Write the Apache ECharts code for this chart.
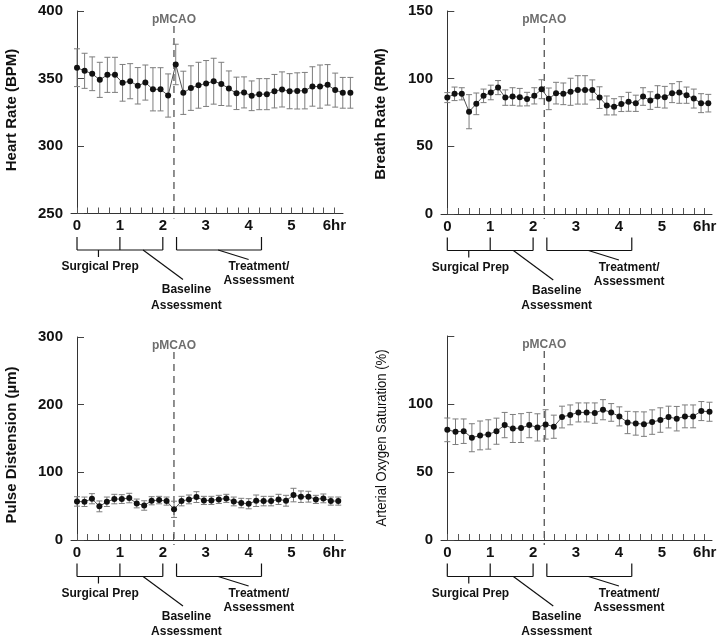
<!DOCTYPE html>
<html><head><meta charset="utf-8">
<script src="https://cdn.jsdelivr.net/npm/echarts@6/dist/echarts.min.js"></script>
<style>html,body{margin:0;padding:0;background:#fff}#c{width:720px;height:638px}</style>
</head><body><div id="c"></div>
<script>
// ---------------- data ----------------
const hourLabels = [0, 1, 2, 3, 4, 5, 6];
const quarterTicks = [0, 0.25, 0.5, 0.75, 1, 1.25, 1.5, 1.75, 2, 2.25, 2.5, 2.75, 3, 3.25, 3.5, 3.75, 4, 4.25, 4.5, 4.75, 5, 5.25, 5.5, 5.75, 6];
const pMCAOtime = 2.26;              // hours
const prepBracket = [0, 1, 2];       // Surgical Prep 0-1 h, Baseline 1-2 h
const treatBracket = [2.32, 4.3];    // Treatment / Assessment

// sampling interval (hours) of each recording as drawn
const hrStep = 0.177, brStep = 0.169, pdStep = 0.174, o2Step = 0.191;

const hrMean = [358, 355.7, 353.5, 349, 352.7, 352.7, 346.8, 348, 344.6, 347, 342, 342, 337.4, 360.4, 339.4, 342.9, 345, 346.3, 348, 346, 342.6, 339, 339.7, 337.2, 338.4, 338.4, 340.6, 341.9, 340.6, 340.8, 341, 344.1, 344, 345.3, 341.4, 339.4, 339.4];
const hrErr  = [14, 13, 12.5, 13, 13, 13, 13.6, 13, 13.5, 13, 16, 16, 16, 15, 16, 16.5, 17, 17, 17, 16, 13, 12, 11.5, 11, 11.5, 11.5, 12.4, 13, 13, 13.4, 13.5, 14.6, 16, 15, 12.6, 11.4, 11.4];

const brMean = [86, 88.8, 88.8, 75.6, 81.4, 87.3, 89.8, 93.4, 86, 86.8, 86.3, 84.9, 87.3, 92.2, 85.1, 89.3, 88.8, 90.3, 91.7, 91.7, 91.7, 86, 80.2, 79.2, 81.2, 82.9, 81.8, 86.8, 83.8, 86.8, 86.3, 89.3, 89.8, 87.8, 85.3, 81.9, 81.9];
const brErr  = [3.7, 5, 4.5, 12.6, 8, 5, 5.4, 5.2, 5.7, 6.5, 6.5, 5, 6, 7, 8, 8, 8, 10, 10.5, 10.5, 7.4, 8, 7, 6, 5.5, 7, 6, 6.5, 6.5, 8, 8, 7, 8, 6, 7, 7, 6.5];

const pdMean = [57, 56.5, 61, 49.7, 56.5, 60.5, 60.5, 62, 54, 51, 58, 59, 57.5, 45.3, 57.5, 60, 63.4, 58.5, 58.5, 60, 61.5, 57, 54.6, 53.6, 58, 57.5, 57.5, 60, 58, 66.4, 64, 64, 60, 61.5, 57.5, 57.5];
const pdErr  = [7, 7, 7.5, 8, 7, 7, 6.5, 7, 6.5, 7, 6, 5.5, 6, 12, 7, 6.5, 8, 6, 6, 6, 6, 6.5, 7, 7.5, 8.5, 7, 7, 7.5, 8, 10, 8.5, 8, 6, 6.5, 6, 6];

const o2Mean = [81, 79.6, 80, 75.2, 76.9, 77.6, 80, 84.5, 82, 82.3, 84.5, 82.8, 85, 83.3, 90.4, 92, 93.8, 93.8, 93.3, 95.8, 93.8, 90.9, 86.4, 85.7, 85.2, 86.7, 88.2, 90.4, 89.2, 90.9, 90.9, 94.8, 94.3];
const o2Err  = [8.7, 9.4, 9, 10.3, 10.6, 10.8, 9.6, 9.3, 10.3, 10.6, 9.3, 10, 10.8, 8.5, 8, 7.3, 7, 7, 7.5, 7.4, 6.5, 7, 8.2, 8.6, 9, 9, 9, 8, 9, 8.4, 8.4, 7, 7];

// ---------------- layout ----------------
const FONT = '"Liberation Sans", Arial, Helvetica, sans-serif';
const panels = [
  {title: 'Heart Rate (BPM)', mean: hrMean, err: hrErr, step: hrStep, yMin: 250, yMax: 400, yInt: 50,
   grid: {left: 71, top: 11, width: 272, height: 202.5}, xMin: -0.14, xMax: 6.2,
   titlePos: [12, 110], titleFont: 'bold 15px ' + FONT, titleScale: 1, hideTop: false},
  {title: 'Breath Rate (RPM)', mean: brMean, err: brErr, step: brStep, yMin: 0, yMax: 150, yInt: 50,
   grid: {left: 441, top: 11, width: 271, height: 203}, xMin: -0.147, xMax: 6.17,
   titlePos: [381, 114], titleFont: 'bold 15px ' + FONT, titleScale: 1, hideTop: false},
  {title: 'Pulse Distension (\u00b5m)', mean: pdMean, err: pdErr, step: pdStep, yMin: 0, yMax: 300, yInt: 100,
   grid: {left: 71, top: 337, width: 272, height: 203}, xMin: -0.14, xMax: 6.2,
   titlePos: [12, 445], titleFont: 'bold 15px ' + FONT, titleScale: 1, hideTop: false},
  {title: 'Arterial Oxygen Saturation (%)', mean: o2Mean, err: o2Err, step: o2Step, yMin: 0, yMax: 150, yInt: 50,
   grid: {left: 441, top: 336, width: 271, height: 204}, xMin: -0.147, xMax: 6.17,
   titlePos: [382, 438], titleFont: '15px ' + FONT, titleScale: 0.87, hideTop: true}
];

const grids = [], xAxes = [], yAxes = [], series = [], graphics = [];

panels.forEach((p, k) => {
  grids.push(Object.assign({outerBoundsMode: 'none', containLabel: false}, p.grid));
  xAxes.push({
    type: 'value', gridIndex: k, min: p.xMin, max: p.xMax,
    axisLine: {show: true, onZero: false, lineStyle: {color: '#333', width: 1}},
    axisTick: {show: true, inside: true, length: 6, customValues: quarterTicks, lineStyle: {color: '#555', width: 1}},
    axisLabel: {show: true, customValues: hourLabels, margin: 5, fontSize: 15, fontWeight: 'bold', fontFamily: FONT, color: '#111',
      formatter: v => (v === 6 ? '6hr' : String(v))},
    splitLine: {show: false}
  });
  yAxes.push({
    type: 'value', gridIndex: k, min: p.yMin, max: p.yMax, interval: p.yInt,
    axisLine: {show: true, lineStyle: {color: '#333', width: 1}},
    axisTick: {show: true, inside: true, length: 7, lineStyle: {color: '#444', width: 1}},
    axisLabel: {show: true, margin: 8, fontSize: 15, fontWeight: 'bold', fontFamily: FONT, color: '#111',
      formatter: v => (p.hideTop && v === p.yMax ? '' : String(v))},
    splitLine: {show: false}
  });

  const pts = p.mean.map((m, i) => [i * p.step, m, p.err[i]]);

  // error bars
  series.push({
    type: 'custom', xAxisIndex: k, yAxisIndex: k, clip: false, z: 2, silent: true,
    data: pts,
    encode: {x: 0, y: 1},
    renderItem: (params, api) => {
      const x = api.value(0), y = api.value(1), e = api.value(2);
      const hi = api.coord([x, y + e]), lo = api.coord([x, y - e]);
      const st = {stroke: '#7d7d7d', lineWidth: 1};
      return {type: 'group', children: [
        {type: 'line', shape: {x1: hi[0], y1: hi[1], x2: lo[0], y2: lo[1]}, style: st},
        {type: 'line', shape: {x1: hi[0] - 3, y1: hi[1], x2: hi[0] + 3, y2: hi[1]}, style: st},
        {type: 'line', shape: {x1: lo[0] - 3, y1: lo[1], x2: lo[0] + 3, y2: lo[1]}, style: st}
      ]};
    }
  });

  // mean line + dots
  series.push({
    type: 'line', xAxisIndex: k, yAxisIndex: k, clip: false, z: 3, silent: true,
    data: pts.map(d => [d[0], d[1]]),
    symbol: 'circle', symbolSize: 6, showSymbol: true,
    itemStyle: {color: '#111'},
    lineStyle: {color: '#555', width: 1},
    animation: false
  });

  // annotations: pMCAO line, phase brackets & labels
  series.push({
    type: 'custom', xAxisIndex: k, yAxisIndex: k, clip: false, z: 1, silent: true,
    data: [[0, p.yMin]],
    renderItem: (params, api) => {
      const axisY = api.coord([0, p.yMin])[1];
      const topY = api.coord([0, p.yMax])[1];
      const X = h => api.coord([h, p.yMin])[0];
      const ln = {stroke: '#111', lineWidth: 1.2};
      const txt = (t, x, y, font, fill) => ({type: 'text', style: {text: t, x: x, y: y, align: 'center', verticalAlign: 'middle',
        font: font || ('bold 12px ' + FONT), fill: fill || '#111'}});
      const L = (x1, y1, x2, y2, s) => ({type: 'line', shape: {x1, y1, x2, y2}, style: s || ln});
      const c = [];
      // pMCAO
      const px = X(pMCAOtime);
      c.push(L(px, topY + 15, px, axisY + 5, {stroke: '#555', lineWidth: 1.3, lineDash: [7, 5]}));
      c.push(txt('pMCAO', px, topY + 9, 'bold 12px ' + FONT, '#6e6e6e'));
      // prep bracket
      const b0 = X(prepBracket[0]), b1 = X(prepBracket[1]), b2 = X(prepBracket[2]);
      const by = axisY + 36.5, vt = axisY + 23.5;
      c.push(L(b0, vt, b0, by), L(b1, vt, b1, by), L(b2, vt, b2, by), L(b0, by, b2, by));
      const sp = X((prepBracket[0] + prepBracket[1]) / 2);
      c.push(L(sp, by, sp, by + 7));
      c.push(txt('Surgical Prep', X(0.54), axisY + 53.5));
      // baseline leader
      c.push(L(X(1.54), by, X(2.47), axisY + 66));
      c.push(txt('Baseline', X(2.55), axisY + 76.5));
      c.push(txt('Assessment', X(2.55), axisY + 92));
      // treatment bracket
      const t0 = X(treatBracket[0]), t1 = X(treatBracket[1]);
      c.push(L(t0, vt, t0, by), L(t1, vt, t1, by), L(t0, by, t1, by));
      c.push(L(X(3.29), by, X(4.0), axisY + 46));
      c.push(txt('Treatment/', X(4.24), axisY + 53.5));
      c.push(txt('Assessment', X(4.24), axisY + 67.5));
      return {type: 'group', children: c};
    }
  });

  graphics.push({
    type: 'text', x: p.titlePos[0], y: p.titlePos[1], rotation: Math.PI / 2, scaleX: p.titleScale,
    style: {text: p.title, align: 'center', verticalAlign: 'middle', font: p.titleFont, fill: '#111'}
  });
});

const chart = echarts.init(document.getElementById('c'), null, {renderer: 'canvas'});
chart.setOption({
  animation: false,
  backgroundColor: '#fff',
  grid: grids, xAxis: xAxes, yAxis: yAxes, series: series, graphic: graphics
});
</script></body></html>
